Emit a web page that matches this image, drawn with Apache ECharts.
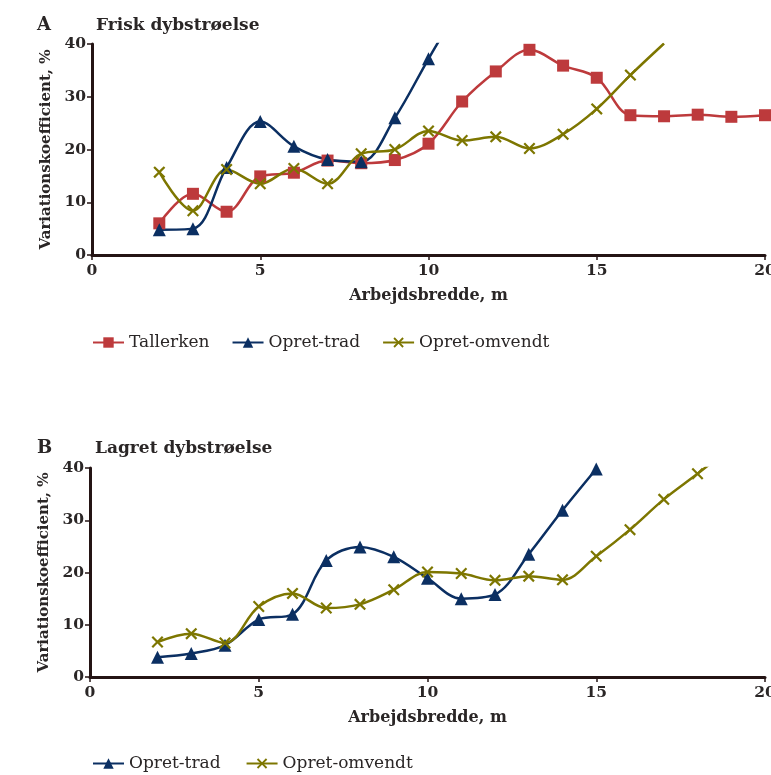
<!DOCTYPE html>
<html><head><meta charset="utf-8">
<script src="https://cdn.jsdelivr.net/npm/echarts@6/dist/echarts.min.js"></script>
<style>html,body{margin:0;padding:0;background:#fff}#c{width:771px;height:775px}</style>
</head><body><div id="c"></div>
<script>
// Panel A: Frisk dybstrøelse
const aTallerkenX = [2,3,4,5,6,7,8,9,10,11,12,13,14,15,16,17,18,19,20];
const aTallerkenY = [6.0,11.6,8.2,14.9,15.6,17.9,17.4,18.0,21.1,29.1,34.8,38.9,35.9,33.6,26.5,26.3,26.6,26.2,26.5];
const aTradX = [2,3,4,5,6,7,8,9,10,11];
const aTradY = [4.8,5.0,16.6,25.3,20.6,18.1,17.7,26.0,37.2,48];
const aOmvX = [2,3,4,5,6,7,8,9,10,11,12,13,14,15,16,17];
const aOmvY = [15.7,8.4,16.2,13.5,16.4,13.5,19.2,20.0,23.5,21.7,22.4,20.2,22.9,27.7,34.1,40.1];
// Panel B: Lagret dybstrøelse
const bTradX = [2,3,4,5,6,7,8,9,10,11,12,13,14,15];
const bTradY = [3.8,4.5,6.1,11.0,12.0,22.3,24.9,23.0,18.9,15.0,15.8,23.5,31.9,39.8];
const bOmvX = [2,3,4,5,6,7,8,9,10,11,12,13,14,15,16,17,18,19];
const bOmvY = [6.7,8.3,6.5,13.5,16.0,13.2,13.9,16.7,20.1,19.8,18.5,19.3,18.6,23.1,28.2,34.0,38.9,44];

const xTicks = [0,5,10,15,20];
const yTicks = [0,10,20,30,40];
const names = ['Tallerken','Opret-trad','Opret-omvendt'];
const titles = ['A','Frisk dybstrøelse','B','Lagret dybstrøelse'];
const xName = 'Arbejdsbredde, m';
const yName = 'Variationskoefficient, %';

const RED = '#bd3a3c', BLUE = '#0b2f62', OLIVE = '#7d7600';
const TXT = '#2a2626', AX = '#241414';
const SERIF = 'DejaVu Serif';
const XSYM = 'path://M0,1.3L1.3,0L5,3.7L8.7,0L10,1.3L6.3,5L10,8.7L8.7,10L5,6.3L1.3,10L0,8.7L3.7,5Z';

const zip = (xs, ys) => xs.map((x, i) => [x, ys[i]]);

function xAxis(gi){
  return {gridIndex: gi, type:'value', min: xTicks[0], max: xTicks[xTicks.length-1], interval: 5,
    name: xName, nameLocation:'middle', nameGap: 33,
    nameTextStyle:{fontFamily:SERIF, fontWeight:'bold', fontSize:16, color:TXT},
    axisLine:{show:true, onZero:false, lineStyle:{color:AX, width:3}},
    axisTick:{show:true, length:5, lineStyle:{color:AX, width:1.5}},
    axisLabel:{fontFamily:SERIF, fontWeight:'bold', fontSize:15.5, color:TXT, margin:8},
    splitLine:{show:false}};
}
function yAxis(gi){
  return {gridIndex: gi, type:'value', min: yTicks[0], max: yTicks[yTicks.length-1], interval: 10,
    name: yName, nameLocation:'middle', nameGap: 36, nameRotate: 90,
    nameTextStyle:{fontFamily:SERIF, fontWeight:'bold', fontSize:15, color:TXT},
    axisLine:{show:true, lineStyle:{color:AX, width:3}},
    axisTick:{show:true, length:5, lineStyle:{color:AX, width:1.5}},
    axisLabel:{fontFamily:SERIF, fontWeight:'bold', fontSize:15.5, color:TXT, margin:6},
    splitLine:{show:false}};
}
function line(name, data, gi, color, symbol, size){
  return {name, type:'line', xAxisIndex:gi, yAxisIndex:gi, data, smooth:0.35,
    clip:true, symbol, symbolSize:size, showAllSymbol:true,
    lineStyle:{color, width:2.5}, itemStyle:{color, borderWidth:0}, emphasis:{disabled:true}, z: 3};
}
const tStyle = {fontFamily:SERIF, fontWeight:'bold', fontSize:17, color:TXT};

const chart = echarts.init(document.getElementById('c'), null, {renderer:'canvas'});
chart.setOption({
  animation:false,
  backgroundColor:'#fff',
  title:[
    {text:titles[0], left:37, top:16, padding:0, textStyle:Object.assign({}, tStyle, {fontSize:18})},
    {text:titles[1], left:96, top:17, padding:0, textStyle:tStyle},
    {text:titles[2], left:37, top:439, padding:0, textStyle:Object.assign({}, tStyle, {fontSize:18})},
    {text:titles[3], left:95, top:440, padding:0, textStyle:tStyle}
  ],
  grid:[
    {left:92, top:44, width:673, height:211, outerBoundsMode:'none', containLabel:false},
    {left:90, top:468, width:675, height:209, outerBoundsMode:'none', containLabel:false}
  ],
  xAxis:[xAxis(0), xAxis(1)],
  yAxis:[yAxis(0), yAxis(1)],
  legend:[
    {data:names, left:92, top:334, padding:0, itemWidth:31, itemHeight:13, itemGap:22, selectedMode:false,
     textStyle:{fontFamily:SERIF, fontSize:17, color:TXT}},
    {data:names.slice(1), left:92, top:755, padding:0, itemWidth:31, itemHeight:13, itemGap:25, selectedMode:false,
     textStyle:{fontFamily:SERIF, fontSize:17, color:TXT}}
  ],
  series:[
    line(names[0], zip(aTallerkenX, aTallerkenY), 0, RED, 'rect', 12),
    line(names[1], zip(aTradX, aTradY), 0, BLUE, 'triangle', 13),
    line(names[2], zip(aOmvX, aOmvY), 0, OLIVE, XSYM, 12),
    line(names[1], zip(bTradX, bTradY), 1, BLUE, 'triangle', 13),
    line(names[2], zip(bOmvX, bOmvY), 1, OLIVE, XSYM, 12)
  ]
});
</script></body></html>
